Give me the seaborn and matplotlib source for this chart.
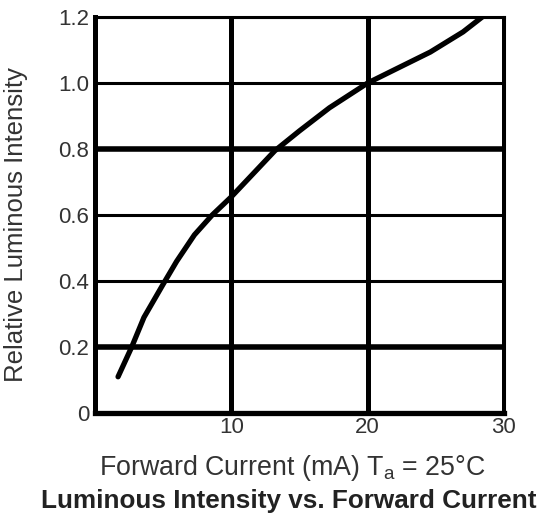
import matplotlib
matplotlib.use("Agg")
import matplotlib.pyplot as plt
import seaborn as sns
import pandas as pd

sns.set_theme(style="white")
plt.rcParams['font.family'] = ['Liberation Sans', 'DejaVu Sans']

# values
current = [1.7, 2.7, 3.6, 5.0, 6.0, 7.3, 8.6, 10.0, 11.6, 13.2, 15.0, 17.2, 20.0, 22.2, 24.6, 27.0, 28.4]
intensity = [0.11, 0.20, 0.29, 0.39, 0.46, 0.54, 0.60, 0.655, 0.725, 0.795, 0.855, 0.925, 1.00, 1.045, 1.094, 1.155, 1.20]

x_ticks = [10, 20, 30]
y_ticks = [0, 0.2, 0.4, 0.6, 0.8, 1.0, 1.2]
y_labels = ["0", "0.2", "0.4", "0.6", "0.8", "1.0", "1.2"]
thick_rows = [0.2, 0.8]

df = pd.DataFrame({"current": current, "intensity": intensity})

fig = plt.figure(figsize=(5.39, 5.17), dpi=100)
ax = fig.add_axes([0.176, 0.201, 0.759, 0.766])

sns.lineplot(data=df, x="current", y="intensity", color="black", linewidth=3.8, ax=ax)

ax.set_xlim(0, 30)
ax.set_ylim(0, 1.2)
ax.set_xticks(x_ticks)
ax.set_yticks(y_ticks)
ax.set_yticklabels(y_labels)
ax.tick_params(length=0, labelsize=16, labelcolor="#333333")
ax.tick_params(axis="x", pad=3)
ax.tick_params(axis="y", pad=4)

ax.grid(True, color="black", linewidth=2.2)
for tick, line in zip(y_ticks, ax.yaxis.get_gridlines()):
    if tick in thick_rows:
        line.set_linewidth(4.0)
for line in ax.xaxis.get_gridlines():
    line.set_linewidth(3.6)

for side, w in [("left", 3.6), ("bottom", 3.8), ("top", 2.2), ("right", 2.2)]:
    ax.spines[side].set_color("black")
    ax.spines[side].set_linewidth(w)

ax.set_xlabel("Forward Current (mA) T$_\\mathregular{a}$ = 25°C", fontsize=19.3, color="#333333")
ax.set_ylabel("Relative Luminous Intensity", fontsize=18.5, color="#333333")
ax.xaxis.set_label_coords(0.482, -0.101)
ax.yaxis.set_label_coords(-0.164, 0.475)
fig.text(0.535, 0.017, "Luminous Intensity vs. Forward Current", fontsize=18.8,
         fontweight="bold", color="#222222", ha="center", va="baseline")

fig.savefig("out.png", dpi=100)
